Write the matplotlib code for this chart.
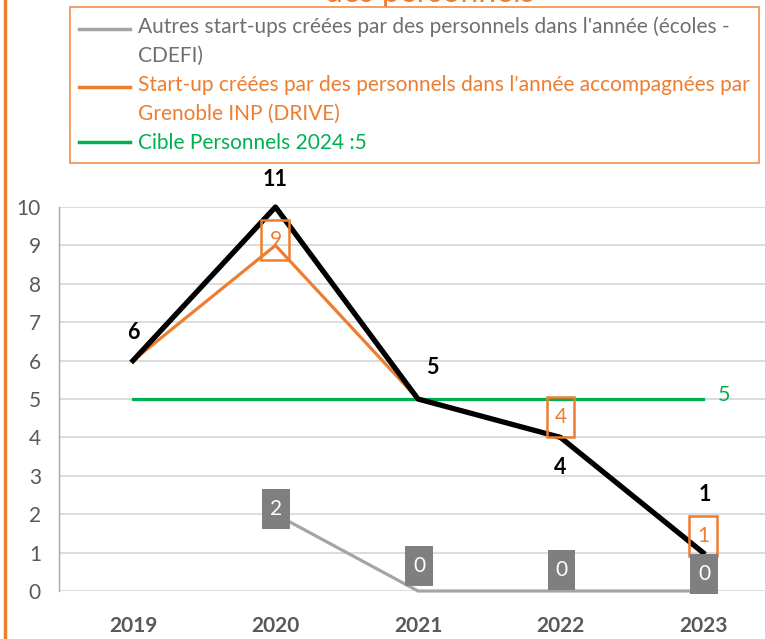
import numpy as np
import matplotlib
matplotlib.use("Agg")
import matplotlib.pyplot as plt
from matplotlib.lines import Line2D
from matplotlib.path import Path
from matplotlib.legend_handler import HandlerLine2D

plt.rcParams['font.family'] = ['Lato', 'DejaVu Sans']

# data
years = ['2019', '2020', '2021', '2022', '2023']
total = [6, 11, 5, 4, 1]
drive = [6, 9, 5, 4, 1]
autres = [np.nan, 2, 0, 0, 0]
cible = [5, 5, 5, 5, 5]

lab_autres = "Autres start-ups créées par des personnels dans l'année (écoles -\nCDEFI)"
lab_drive = "Start-up créées par des personnels dans l'année accompagnées par\nGrenoble INP (DRIVE)"
lab_cible = "Cible Personnels 2024 :5"

c_grey_line = '#a5a5a5'
c_grey_box = '#7f7f7f'
c_orange = '#ed7d31'
c_green = '#00b050'
c_text = '#595959'


def tall_box(x0, y0, width, height, mutation_size):
    # box a bit taller than wide, like the Excel data labels
    ph = 0.38 * mutation_size
    pv = 0.48 * mutation_size
    x0, y0 = x0 - ph, y0 - pv
    x1, y1 = x0 + width + 2 * ph, y0 + height + 2 * pv
    return Path([(x0, y0), (x1, y0), (x1, y1), (x0, y1), (x0, y0)], closed=True)


class TopLineHandler(HandlerLine2D):
    # put the legend line next to the first text line of a 2-line label
    def __init__(self, shift, **kw):
        super().__init__(**kw)
        self.shift = shift

    def create_artists(self, legend, orig_handle, xdescent, ydescent,
                       width, height, fontsize, trans):
        arts = super().create_artists(legend, orig_handle, xdescent, ydescent,
                                      width, height, fontsize, trans)
        for a in arts:
            a.set_ydata(np.asarray(a.get_ydata()) + self.shift)
        return arts


fig = plt.figure(figsize=(7.65, 6.39), dpi=100)
ax = fig.add_axes([59 / 765, 48 / 639, 1 - 59 / 765, 384 / 639])

x = np.arange(len(years))
ymax = 10
total_plot = np.minimum(total, ymax)  # axis stops at 10

ax.plot(x, autres, color=c_grey_line, lw=2.3, zorder=3, clip_on=False)
ax.plot(x, cible, color=c_green, lw=2.3, zorder=3, clip_on=False)
ax.plot(x, drive, color=c_orange, lw=2.3, zorder=4, clip_on=False)
ax.plot(x, total_plot, color='black', lw=3.8, zorder=5, clip_on=False)

ax.set_xlim(-0.519, 4.435)
ax.set_ylim(0, ymax)
ax.set_yticks(range(0, 11))
ax.set_xticks(x)
ax.set_xticklabels(years, fontweight='bold')
ax.tick_params(axis='both', length=0, labelsize=15, colors=c_text)
ax.tick_params(axis='y', pad=13)
ax.tick_params(axis='x', pad=18)
ax.grid(axis='y', color='#d9d9d9', lw=1.3)
ax.set_axisbelow(True)
for s in ['top', 'right', 'bottom']:
    ax.spines[s].set_visible(False)
ax.spines['left'].set_color('#a6a6a6')
ax.spines['left'].set_linewidth(1)

# black labels (totals)
black_off = [(0, 28), (0, 27), (14, 32), (0, -30), (2, 58)]
for i, v in enumerate(total):
    ax.annotate(str(v), (x[i], total_plot[i]), xytext=black_off[i],
                textcoords='offset pixels', ha='center', va='center',
                fontsize=15.5, fontweight='bold', color='black',
                annotation_clip=False, zorder=7)

# orange labels (boxed)
orange_off = [None, 5, None, 20, 17]
for i, v in enumerate(drive):
    if orange_off[i] is None:
        continue
    ax.annotate(str(v), (x[i], v), xytext=(0, orange_off[i]),
                textcoords='offset pixels', ha='center', va='center',
                fontsize=15, color=c_orange, annotation_clip=False, zorder=8,
                bbox=dict(boxstyle=tall_box, fc='none', ec=c_orange, lw=1.8))

# grey labels (filled boxes)
grey_off = [None, 5, 25, 21, 17]
for i, v in enumerate(autres):
    if grey_off[i] is None:
        continue
    ax.annotate(str(int(v)), (x[i], v), xytext=(1, grey_off[i]),
                textcoords='offset pixels', ha='center', va='center',
                fontsize=15, color='white', annotation_clip=False, zorder=8,
                bbox=dict(boxstyle=tall_box, fc=c_grey_box, ec='none'))

# green label at end of target line
ax.annotate(str(cible[-1]), (x[-1], cible[-1]), xytext=(21, 4),
            textcoords='offset pixels', ha='center', va='center',
            fontsize=15.5, color=c_green, annotation_clip=False)

# title, mostly hidden under the legend
fig.text(0.562, 1 - 2 / 639, "des personnels", ha='center', va='baseline',
         fontsize=23, color=c_orange)

handles = [Line2D([], [], color=c_grey_line, lw=2.5),
           Line2D([], [], color=c_orange, lw=2.5),
           Line2D([], [], color=c_green, lw=2.5)]
hmap = {handles[0]: TopLineHandler(9.5), handles[1]: TopLineHandler(9.5)}
leg = fig.legend(handles, [lab_autres, lab_drive, lab_cible],
                 handler_map=hmap,
                 loc='upper left', bbox_to_anchor=(70 / 765, 1 - 7 / 639),
                 borderaxespad=0, fontsize=15, handlelength=2.45,
                 handletextpad=0.38, borderpad=0.45, labelspacing=0.45,
                 fancybox=False, framealpha=1, edgecolor='#f08f4f')
leg.get_frame().set_linewidth(1.2)
leg.set_zorder(10)
for t, c in zip(leg.get_texts(), ['#6f6f6f', c_orange, c_green]):
    t.set_color(c)
    t.set_linespacing(1.55)

# orange border on the left side
fig.add_artist(Line2D([5 / 765, 5 / 765], [0, 1], color=c_orange, lw=2.5,
                      transform=fig.transFigure))

fig.savefig('out.png', dpi=100)
